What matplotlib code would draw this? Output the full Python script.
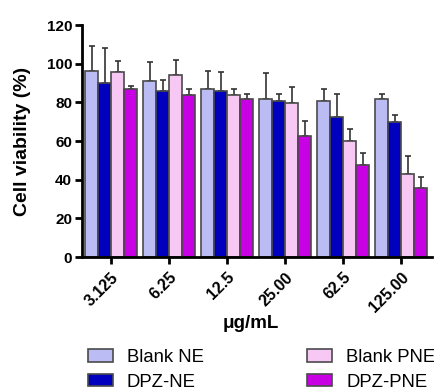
import numpy as np
import matplotlib.pyplot as plt

plt.rcParams['font.family'] = ['Liberation Sans', 'DejaVu Sans']

conc = ['3.125', '6.25', '12.5', '25.00', '62.5', '125.00']
series = ['Blank NE', 'DPZ-NE', 'Blank PNE', 'DPZ-PNE']
colors = ['#BCBCF5', '#0000BE', '#F7C8F3', '#C800E4']

# mean values and upper error (sd)
blank_ne = [96.3, 91.0, 86.7, 82.0, 80.8, 81.8]
blank_ne_sd = [12.7, 10.0, 9.6, 13.0, 6.2, 2.6]
dpz_ne = [90.3, 86.0, 86.0, 81.0, 72.7, 69.9]
dpz_ne_sd = [17.7, 5.6, 9.6, 3.4, 11.7, 3.6]
blank_pne = [96.0, 94.2, 83.7, 79.6, 60.0, 42.9]
blank_pne_sd = [5.5, 7.8, 3.0, 8.3, 6.3, 9.4]
dpz_pne = [87.2, 84.0, 82.0, 62.9, 47.7, 35.8]
dpz_pne_sd = [1.5, 2.7, 2.2, 7.5, 6.0, 5.7]

means = [blank_ne, dpz_ne, blank_pne, dpz_pne]
sds = [blank_ne_sd, dpz_ne_sd, blank_pne_sd, dpz_pne_sd]

fig = plt.figure(figsize=(4.35, 3.92), dpi=100)
ax = fig.add_axes([0.188, 0.344, 0.805, 0.592])

x = np.arange(len(conc))
w = 0.224
for i in range(4):
    pos = x + (i - 1.5) * w
    ax.bar(pos, means[i], width=w, color=colors[i], edgecolor='#4a4a4a', linewidth=1.2,
           label=series[i], zorder=2)
    ax.errorbar(pos, means[i], yerr=[np.zeros(len(conc)), sds[i]], fmt='none',
                ecolor='#333333', elinewidth=1.2, capsize=2.3, capthick=1.2, zorder=1)

ax.set_ylim(0, 120)
ax.set_xlim(-0.505, 5.53)
ax.set_yticks([0, 20, 40, 60, 80, 100, 120])
ax.set_xticks(x)
ax.set_xticklabels(conc, rotation=45, ha='right', rotation_mode='anchor')
for lab in ax.get_yticklabels():
    lab.set_fontweight('bold')
    lab.set_fontsize(11)
for lab in ax.get_xticklabels():
    lab.set_fontweight('bold')
    lab.set_fontsize(11.5)
ax.tick_params(axis='both', width=2, length=5, direction='out', pad=2)
ax.tick_params(axis='x', pad=4)
for s in ['top', 'right']:
    ax.spines[s].set_visible(False)
for s in ['left', 'bottom']:
    ax.spines[s].set_linewidth(2)

ax.set_ylabel('Cell viability (%)', fontsize=14, fontweight='bold', labelpad=11)
fig.text(0.577, 0.176, 'μg/mL', fontsize=13.5, fontweight='bold', ha='center', va='center')

fig.legend(loc='upper left', bbox_to_anchor=(0.202, 0.11), ncol=2, frameon=False,
           fontsize=13.3, handlelength=1.35, handleheight=0.65, columnspacing=5.6,
           labelspacing=0.42, handletextpad=0.76, borderaxespad=0, borderpad=0)

fig.savefig('out.png', dpi=100)
